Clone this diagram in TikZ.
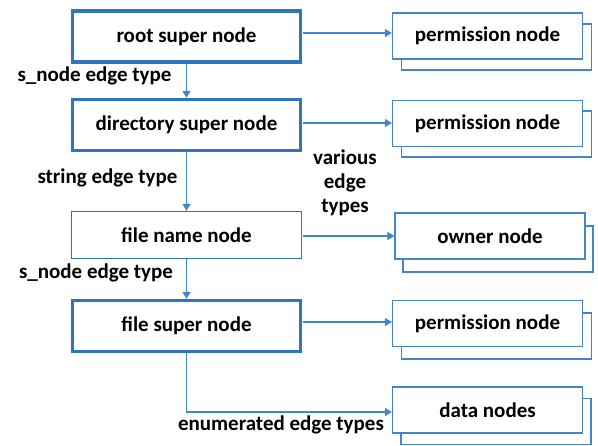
\documentclass[tikz,border=0pt]{standalone}
\usepackage{fontspec}
\setmainfont{Carlito}
\usetikzlibrary{arrows.meta}
\definecolor{boxblue}{RGB}{46,117,190}
\definecolor{lineblue}{RGB}{68,132,205}
\begin{document}
\begin{tikzpicture}[x=1pt,y=-1pt,
  every node/.style={font=\bfseries\fontsize{21}{24}\selectfont, text=black, inner sep=0pt},
  superbox/.style={draw=boxblue, line width=3.4pt, fill=white, minimum width=228pt, minimum height=51pt},
  plainbox/.style={draw=boxblue, line width=1.3pt, fill=white, minimum width=230pt, minimum height=47pt},
  stackfront/.style={draw=lineblue, line width=1.2pt, fill=white, minimum width=190pt, minimum height=46pt},
  stackback/.style={draw=lineblue, line width=1.2pt, fill=white, minimum width=190pt, minimum height=46pt},
  link/.style={draw=lineblue, line width=1.3pt, -{Triangle[length=7pt,width=8pt]}},
  edgelabel/.style={align=center}
]
\useasboundingbox (0,0) rectangle (598,446);

% main chain on the left
\node[superbox] (root)   at (186.5,36.5)  {root super node};
\node[superbox] (dir)    at (186.5,125)   {directory super node};
\node[plainbox] (fname)  at (186.5,235)   {file name node};
\node[superbox] (fsuper) at (186.5,326)   {file super node};

% stacked nodes on the right (back copy first, then front)
\node[stackback]  (perm1b) at (496.5,47)  {};
\node[stackfront] (perm1)  at (487.5,36)  {permission node};
\node[stackback]  (perm2b) at (496.5,134) {};
\node[stackfront] (perm2)  at (487.5,123.5) {permission node};
\node[stackback]  (ownerb) at (498,249)   {};
\node[stackfront] (owner)  at (490,236)   {owner node};
\node[stackback]  (perm3b) at (496.5,336) {};
\node[stackfront] (perm3)  at (487.5,323.5) {permission node};
\node[stackback]  (datab)  at (496,421.5) {};
\node[stackfront] (data)   at (487.5,410) {data nodes};

% vertical edges
\draw[link] (root.south) -- (dir.north);
\draw[link] (dir.south) -- (fname.north);
\draw[link] (fname.south) -- (fsuper.north);

% horizontal edges
\coordinate (a1) at (303,33);
\coordinate (a2) at (303,123);
\coordinate (a3) at (303,236);
\coordinate (a4) at (303,322);
\draw[link] (a1) -- (a1 -| perm1.west);
\draw[link] (a2) -- (a2 -| perm2.west);
\draw[link] (a3) -- (a3 -| owner.west);
\draw[link] (a4) -- (a4 -| perm3.west);
\coordinate (bend) at (186.5,412);
\draw[link] (fsuper.south) -- (bend) -- (bend -| data.west);

% edge labels
\node[edgelabel] (l1) at (94.5,76)  {s\_node edge type};
\node[edgelabel] (l2) at (107.5,178) {string edge type};
\node[edgelabel] (l3) at (96,273)   {s\_node edge type};
\node[edgelabel] (l4) at (345,157)  {various};
\node[edgelabel] (l5) at (345,183)  {edge};
\node[edgelabel] (l6) at (345,208)  {types};
\node[edgelabel] (l7) at (281,425)  {enumerated edge types};
\end{tikzpicture}
\end{document}
